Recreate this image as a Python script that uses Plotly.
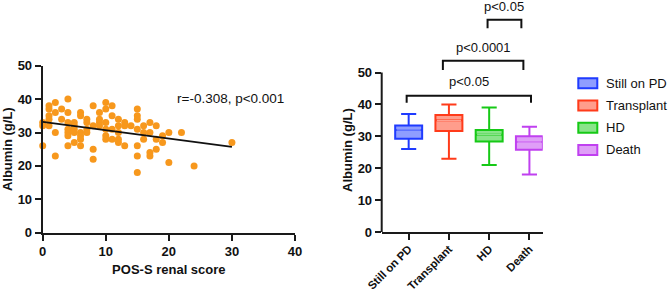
import plotly.graph_objects as go

# ---------------- data ----------------
score = [0, 0, 0,
         1, 1, 1, 1, 1,
         2, 2, 2, 2,
         3, 3,
         4, 4, 4, 4, 4, 4, 4,
         5, 5, 5, 5, 5,
         6, 6, 6, 6, 6, 6,
         7, 7, 7, 7,
         8, 8, 8, 8,
         9, 9, 9, 9,
         10, 10, 10, 10, 10, 10,
         11, 11, 11, 11,
         12, 12, 12, 12, 12,
         13, 13, 13,
         14,
         15, 15, 15, 15, 15, 15, 15,
         16, 16, 16,
         17, 17, 17, 17,
         18, 18, 18,
         19, 19,
         20, 20,
         22,
         24,
         30]
albumin = [33, 32, 26,
           38, 37, 35, 34, 32,
           39, 36, 30, 23,
           37, 34,
           40, 36, 33, 31, 30, 29, 26,
           33, 32, 31, 30, 27,
           36, 35, 30, 29, 28, 26,
           34, 33, 31, 30,
           38, 32, 25, 22,
           36, 34, 33, 32,
           39, 37, 33, 31, 29, 28,
           38, 35, 31, 28,
           34, 32, 30, 28, 27,
           33, 32, 26,
           32,
           37, 35, 34, 31, 26, 23, 18,
           32, 30, 28,
           33, 30, 24, 23,
           32, 28, 25,
           29, 27,
           30, 21,
           30,
           20,
           27]
fit_score = [0, 30]
fit_albumin = [33.2, 25.7]
corr_text = "r=-0.308, p<0.001"

groups = ["Still on PD", "Transplant", "HD", "Death"]
lower = [26, 23, 21, 18]
q1 = [29.2, 31.7, 28.4, 25.8]
median = [32.0, 35.0, 30.5, 28.2]
q3 = [33.4, 36.7, 32.0, 30.0]
upper = [37, 40, 39, 33]

bracket_left = [-0.05, 0.85, 1.96]
bracket_right = [3.04, 2.85, 2.80]
bracket_top = [42.7, 53.7, 66.5]
bracket_foot = [40.5, 50.8, 63.9]
bracket_label = ["p<0.05", "p<0.0001", "p<0.05"]
bracket_label_y = [47.3, 57.8, 70.6]

# ---------------- styles ----------------
W, H = 669, 294
FONT = "Liberation Sans, Arial, sans-serif"
AX = "#1a1a1a"
TXT = "#111111"
orange = "#F7981D"
line_colors = ["#1F3BFF", "#FF3B1A", "#16C916", "#C040F0"]
fill_colors = ["rgba(31,59,255,0.5)", "rgba(255,59,26,0.5)",
               "rgba(22,201,22,0.5)", "rgba(192,64,240,0.5)"]

fig = go.Figure()

# left: scatter + fit
fig.add_trace(go.Scatter(x=score, y=albumin, mode="markers",
                         marker=dict(color=orange, size=7),
                         cliponaxis=False, showlegend=False,
                         xaxis="x", yaxis="y"))
fig.add_trace(go.Scatter(x=fit_score, y=fit_albumin, mode="lines",
                         line=dict(color="#111111", width=1.8),
                         showlegend=False, xaxis="x", yaxis="y"))

# right: boxes
for i, g in enumerate(groups):
    fig.add_trace(go.Box(x=[i], q1=[q1[i]], median=[median[i]], q3=[q3[i]],
                         lowerfence=[lower[i]], upperfence=[upper[i]],
                         name=g, width=0.67, whiskerwidth=0.56,
                         line=dict(color=line_colors[i], width=2),
                         fillcolor=fill_colors[i], boxpoints=False,
                         showlegend=False, xaxis="x2", yaxis="y2"))
    fig.add_trace(go.Scatter(x=[i - 0.3, i + 0.3], y=[median[i], median[i]],
                             mode="lines", line=dict(color="white", width=1.2),
                             opacity=0.55, showlegend=False, hoverinfo="skip",
                             xaxis="x2", yaxis="y2"))

tickfont = dict(family=FONT, size=13, color=TXT, weight="bold")
common = dict(showline=True, linewidth=2, linecolor=AX, ticks="outside",
              ticklen=6, tickwidth=2, tickcolor=AX, showgrid=False,
              zeroline=False, tickfont=tickfont, automargin=False)

y2_px_per_unit = 3.19
fig.update_layout(
    width=W, height=H, margin=dict(l=0, r=0, t=0, b=0),
    paper_bgcolor="white", plot_bgcolor="white",
    font=dict(family=FONT, color=TXT),
    xaxis=dict(domain=[42.7 / W, 295 / W], range=[0, 40],
               tickvals=[0, 10, 20, 30, 40], anchor="y",
               title=dict(text="POS-S renal score", standoff=7,
                          font=dict(family=FONT, size=13, color=TXT, weight="bold")),
               **common),
    yaxis=dict(domain=[1 - 232.7 / H, 1 - 65.7 / H], range=[0, 50],
               tickvals=[0, 10, 20, 30, 40, 50], anchor="x",
               title=dict(text="Albumin (g/L)", standoff=4,
                          font=dict(family=FONT, size=13, color=TXT, weight="bold")),
               **common),
    xaxis2=dict(domain=[381.7 / W, 542.7 / W], range=[-0.67, 3.33],
                tickvals=list(range(len(groups))), ticktext=groups,
                tickangle=-45, anchor="y2", ticklabelstandoff=-2,
                **{**common, "tickfont": dict(family=FONT, size=11.4, color=TXT, weight="bold")}),
    yaxis2=dict(domain=[1 - 232 / H, 1], range=[0, 232 / y2_px_per_unit],
                tickvals=[0, 10, 20, 30, 40, 50], anchor="x2",
                **{**common, "showline": False}),
)

shapes = []
annotations = []

# right y axis line (only up to 50)
shapes.append(dict(type="line", xref="paper", yref="y2",
                   x0=381.7 / W, x1=381.7 / W, y0=0, y1=50,
                   line=dict(color=AX, width=2)))

# significance brackets
for l, r, t, f, lab, ly in zip(bracket_left, bracket_right, bracket_top,
                               bracket_foot, bracket_label, bracket_label_y):
    shapes.append(dict(type="path", xref="x2", yref="y2",
                       path=f"M {l},{f} L {l},{t} L {r},{t} L {r},{f}",
                       line=dict(color="#111111", width=2)))
    annotations.append(dict(x=(l + r) / 2, y=ly, xref="x2", yref="y2",
                            text=lab, showarrow=False, xanchor="center",
                            yanchor="middle",
                            font=dict(family=FONT, size=13, color=TXT)))

# correlation text
annotations.append(dict(x=29.8, y=40.2, xref="x", yref="y", text=corr_text,
                        showarrow=False, xanchor="center", yanchor="middle",
                        font=dict(family=FONT, size=13.5, color=TXT)))

# right y title
annotations.append(dict(x=347 / W, y=1 - 150 / H, xref="paper", yref="paper",
                        text="Albumin (g/L)", textangle=-90, showarrow=False,
                        xanchor="center", yanchor="middle",
                        font=dict(family=FONT, size=13, color=TXT, weight="bold")))

# legend (manual)
leg_top, leg_gap = 83.3, 22.2
for i, g in enumerate(groups):
    cy = leg_top + i * leg_gap
    shapes.append(dict(type="rect", xref="paper", yref="paper",
                       x0=578.3 / W, x1=597.3 / W,
                       y0=1 - (cy - 5) / H, y1=1 - (cy + 5) / H,
                       line=dict(color=line_colors[i], width=2),
                       fillcolor=fill_colors[i]))
    annotations.append(dict(x=604 / W, y=1 - cy / H, xref="paper", yref="paper",
                            text=g, showarrow=False, xanchor="left",
                            yanchor="middle",
                            font=dict(family=FONT, size=13, color=TXT)))

fig.update_layout(shapes=shapes, annotations=annotations)
fig.write_html("out.html",
               config={"displayModeBar": False},
               post_script="document.body.style.margin='0';"
                           "document.body.style.overflow='hidden';")
